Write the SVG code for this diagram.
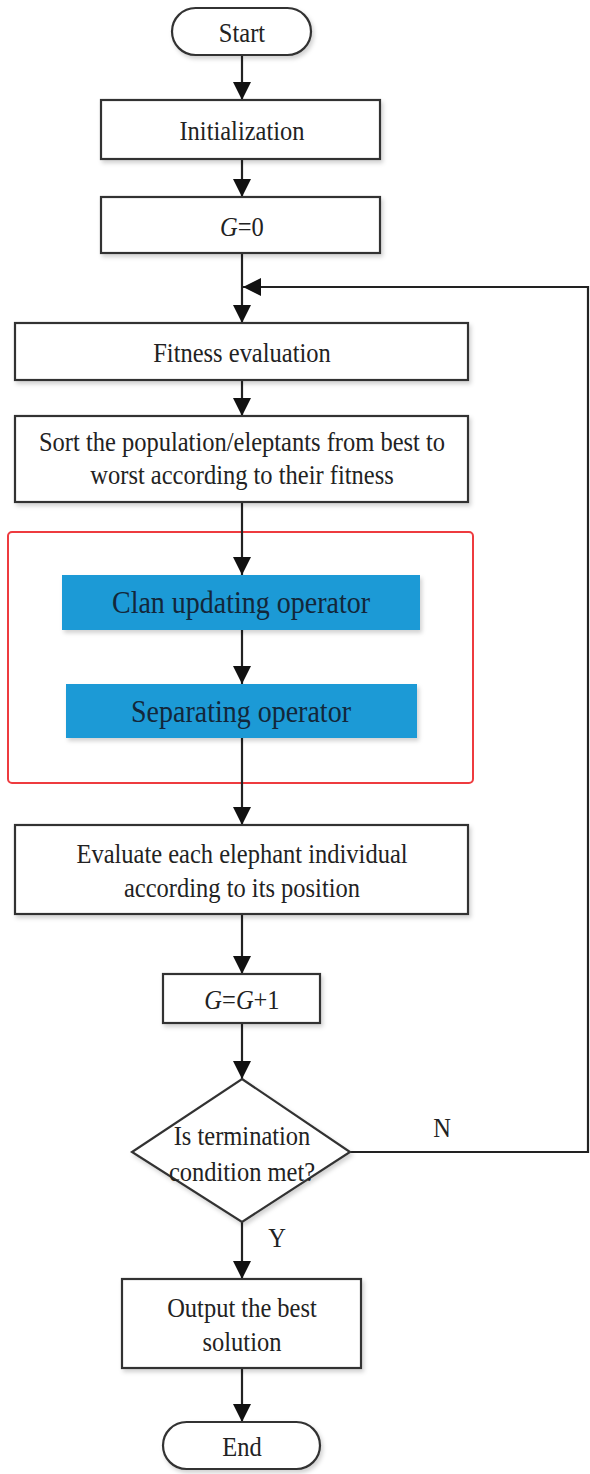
<svg xmlns="http://www.w3.org/2000/svg" width="590" height="1474" viewBox="0 0 590 1474">
<defs>
<marker id="ah" markerUnits="userSpaceOnUse" markerWidth="18" markerHeight="18" refX="18" refY="9" orient="auto">
<path d="M0,0 L18,9 L0,18 Z" fill="#111"/>
</marker>
<filter id="sh" x="-5%" y="-10%" width="112%" height="130%">
<feDropShadow dx="2" dy="3" stdDeviation="2" flood-color="#000" flood-opacity="0.18"/>
</filter>
</defs>
<style>
.box{fill:#fff;stroke:#333;stroke-width:2.2;filter:url(#sh)}
.blue{fill:#1e9ad6;stroke:none;filter:url(#sh)}
.t{font-family:"Liberation Serif","Times New Roman",serif;font-size:24.5px;fill:#222;text-anchor:middle;dominant-baseline:central}
.tb{font-family:"Liberation Serif","Times New Roman",serif;font-size:28px;fill:#13273a;text-anchor:middle;dominant-baseline:central}
.c{fill:none;stroke:#222;stroke-width:2.2}
.i{font-style:italic}
</style>
<rect id="group-box" x="8" y="532" width="465" height="251" rx="4" fill="none" stroke="#ee3b3f" stroke-width="2"/>
<g id="connectors">
<line class="c" x1="242" y1="55" x2="242" y2="100" marker-end="url(#ah)"/>
<line class="c" x1="242" y1="159" x2="242" y2="197" marker-end="url(#ah)"/>
<line class="c" x1="242" y1="253" x2="242" y2="323" marker-end="url(#ah)"/>
<polyline class="c" points="350,1152 588,1152 588,287 243,287" marker-end="url(#ah)"/>
<line class="c" x1="242" y1="380" x2="242" y2="416" marker-end="url(#ah)"/>
<line class="c" x1="242" y1="502" x2="242" y2="575" marker-end="url(#ah)"/>
<line class="c" x1="242" y1="630" x2="242" y2="684" marker-end="url(#ah)"/>
<line class="c" x1="242" y1="738" x2="242" y2="825" marker-end="url(#ah)"/>
<line class="c" x1="242" y1="914" x2="242" y2="974" marker-end="url(#ah)"/>
<line class="c" x1="242" y1="1023" x2="242" y2="1079" marker-end="url(#ah)"/>
<line class="c" x1="242" y1="1222" x2="242" y2="1279" marker-end="url(#ah)"/>
<line class="c" x1="242" y1="1368" x2="242" y2="1422" marker-end="url(#ah)"/>
<text class="t" transform="translate(442,1127) scale(1,1.15)">N</text>
<text class="t" transform="translate(277,1237) scale(1,1.15)">Y</text>
</g>
<g id="start">
<rect class="box" x="172" y="8" width="139" height="47" rx="23.5"/>
<text class="t" transform="translate(242,32) scale(1,1.15)">Start</text>
</g>
<g id="init">
<rect class="box" x="101" y="100" width="279" height="59"/>
<text class="t" transform="translate(242,130) scale(1,1.15)">Initialization</text>
</g>
<g id="g0">
<rect class="box" x="101" y="197" width="279" height="56"/>
<text class="t" transform="translate(242,226) scale(1,1.15)"><tspan class="i">G</tspan>=0</text>
</g>
<g id="fitness">
<rect class="box" x="15" y="323" width="453" height="57"/>
<text class="t" transform="translate(242,352) scale(1,1.15)">Fitness evaluation</text>
</g>
<g id="sort">
<rect class="box" x="15" y="416" width="453" height="86"/>
<text class="t" transform="translate(242,442) scale(1,1.1)">Sort the population/eleptants from best to</text>
<text class="t" transform="translate(242,475) scale(1,1.1)">worst according to their fitness</text>
</g>
<g id="clan">
<rect class="blue" x="62" y="575" width="358" height="55"/>
<text class="tb" transform="translate(241,602) scale(1,1.15)">Clan updating operator</text>
</g>
<g id="separating">
<rect class="blue" x="66" y="684" width="351" height="54"/>
<text class="tb" transform="translate(241,711) scale(1,1.15)">Separating operator</text>
</g>
<g id="evaluate">
<rect class="box" x="15" y="825" width="453" height="89"/>
<text class="t" transform="translate(242,853) scale(1,1.15)">Evaluate each elephant individual</text>
<text class="t" transform="translate(242,887) scale(1,1.15)">according to its position</text>
</g>
<g id="gplus">
<rect class="box" x="163" y="974" width="157" height="49"/>
<text class="t" transform="translate(242,999) scale(1,1.15)"><tspan class="i">G</tspan>=<tspan class="i">G</tspan>+1</text>
</g>
<g id="decision">
<polygon class="box" points="242,1079 350,1152 242,1222 132,1152"/>
<text class="t" transform="translate(242,1135) scale(1,1.15)">Is termination</text>
<text class="t" transform="translate(242,1171) scale(1,1.15)">condition met?</text>
</g>
<g id="output">
<rect class="box" x="122" y="1279" width="239" height="89"/>
<text class="t" transform="translate(242,1307) scale(1,1.15)">Output the best</text>
<text class="t" transform="translate(242,1341) scale(1,1.15)">solution</text>
</g>
<g id="end">
<rect class="box" x="163" y="1422" width="157" height="47" rx="23.5"/>
<text class="t" transform="translate(242,1446) scale(1,1.15)">End</text>
</g>
</svg>
